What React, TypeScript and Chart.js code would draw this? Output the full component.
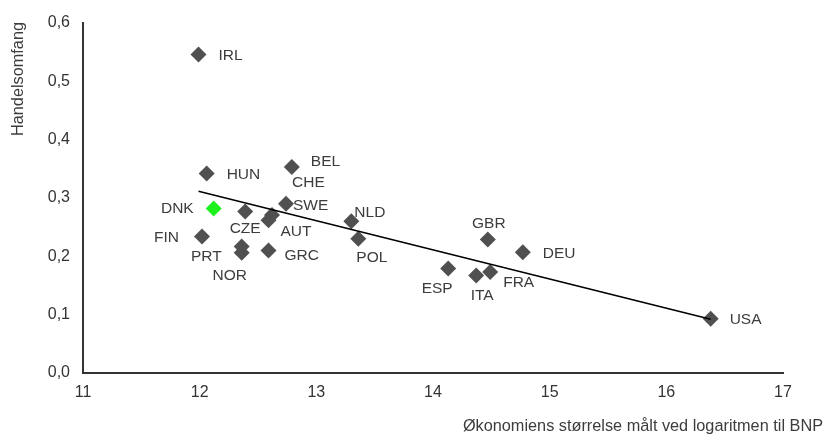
import { useEffect, useRef } from 'react';
import { Chart, registerables } from 'chart.js';

Chart.register(...registerables);

// ---- Data ----
const countries = ['IRL', 'HUN', 'BEL', 'SWE', 'DNK', 'CZE', 'CHE', 'AUT', 'FIN', 'PRT', 'NOR', 'GRC', 'NLD', 'POL', 'GBR', 'DEU', 'ESP', 'ITA', 'FRA', 'USA'];
const logGdp = [11.99, 12.06, 12.79, 12.74, 12.12, 12.39, 12.62, 12.59, 12.02, 12.36, 12.36, 12.59, 13.30, 13.36, 14.47, 14.77, 14.13, 14.37, 14.49, 16.38];
const tradeShare = [0.546, 0.342, 0.353, 0.290, 0.282, 0.277, 0.271, 0.262, 0.234, 0.217, 0.206, 0.210, 0.260, 0.230, 0.229, 0.207, 0.179, 0.167, 0.173, 0.093];
const highlighted = 'DNK';
const xTitle = 'Økonomiens størrelse målt ved logaritmen til BNP';
const yTitle = 'Handelsomfang';

// label placement relative to each point: [dx, dy, align]
const labelPlacement: [number, number, CanvasTextAlign][] = [
  [20, 1, 'left'], [20, 1, 'left'], [19, -5, 'left'], [7, 2, 'left'], [-20, 0, 'right'],
  [0, 17, 'center'], [20, -32, 'left'], [12, 12, 'left'], [-23, 1, 'right'], [-20, 10, 'right'],
  [-12, 23, 'center'], [16, 5, 'left'], [3, -9, 'left'], [-2, 19, 'left'], [1, -16, 'center'],
  [20, 1, 'left'], [-11, 20, 'center'], [6, 20, 'center'], [13, 11, 'left'], [19, 1, 'left'],
];

function trendLine() {
  const n = logGdp.length;
  const mx = logGdp.reduce((a, b) => a + b, 0) / n;
  const my = tradeShare.reduce((a, b) => a + b, 0) / n;
  let sxy = 0, sxx = 0;
  for (let i = 0; i < n; i++) {
    sxy += (logGdp[i] - mx) * (tradeShare[i] - my);
    sxx += (logGdp[i] - mx) ** 2;
  }
  const slope = sxy / sxx;
  const icpt = my - slope * mx;
  const x0 = Math.min(...logGdp);
  const x1 = Math.max(...logGdp);
  return [{ x: x0, y: icpt + slope * x0 }, { x: x1, y: icpt + slope * x1 }];
}

const FONT = '"Liberation Sans", Arial, sans-serif';

export default function App() {
  const ref = useRef<HTMLCanvasElement>(null);

  useEffect(() => {
    if (!ref.current) return;
    const labelsPlugin = {
      id: 'pointLabels',
      afterDatasetsDraw(chart: any) {
        const ctx = chart.ctx;
        const meta = chart.getDatasetMeta(1);
        ctx.save();
        ctx.font = `15.5px ${FONT}`;
        ctx.fillStyle = '#3c3c3c';
        ctx.textBaseline = 'middle';
        meta.data.forEach((pt: any, i: number) => {
          const [dx, dy, align] = labelPlacement[i];
          ctx.textAlign = align;
          ctx.fillText(countries[i], pt.x + dx, pt.y + dy);
        });
        ctx.restore();
      },
      afterDraw(chart: any) {
        const ctx = chart.ctx;
        ctx.save();
        ctx.font = `16.3px ${FONT}`;
        ctx.fillStyle = '#3c3c3c';
        ctx.textBaseline = 'middle';
        ctx.textAlign = 'right';
        ctx.fillText(xTitle, 823, 427);
        ctx.translate(19, 79);
        ctx.rotate(-Math.PI / 2);
        ctx.textAlign = 'center';
        ctx.fillText(yTitle, 0, 0);
        ctx.restore();
      },
    };

    const chart = new Chart(ref.current, {
      type: 'scatter',
      data: {
        datasets: [
          {
            type: 'line',
            data: trendLine(),
            borderColor: '#000000',
            borderWidth: 1.5,
            pointRadius: 0,
            fill: false,
            order: 0,
          } as any,
          {
            data: logGdp.map((x, i) => ({ x, y: tradeShare[i] })),
            pointStyle: 'rectRot',
            pointRadius: 8,
            pointBorderWidth: 0,
            backgroundColor: countries.map((c) => (c === highlighted ? '#1ef01e' : '#505050')),
            borderColor: countries.map((c) => (c === highlighted ? '#1ef01e' : '#505050')),
            order: 1,
          },
        ],
      },
      options: {
        responsive: false,
        animation: false,
        layout: { padding: { left: 0, top: 23, right: 45, bottom: 34 } },
        plugins: { legend: { display: false }, tooltip: { enabled: false } },
        scales: {
          x: {
            type: 'linear',
            min: 11,
            max: 17,
            grid: { display: false, drawTicks: false },
            border: { display: true, color: '#333333', width: 2 },
            ticks: {
              stepSize: 1,
              padding: 10,
              color: '#333333',
              font: { family: FONT, size: 16 },
            },
            afterFit: (s: any) => { s.height = 30; },
          },
          y: {
            type: 'linear',
            min: 0,
            max: 0.6,
            grid: { display: false, drawTicks: false },
            border: { display: true, color: '#333333', width: 2 },
            ticks: {
              stepSize: 0.1,
              padding: 13,
              color: '#333333',
              font: { family: FONT, size: 16 },
              callback: (v: any) => Number(v).toFixed(1).replace('.', ','),
            },
            afterFit: (s: any) => { s.width = 83; },
          },
        },
      },
      plugins: [labelsPlugin],
    });
    return () => chart.destroy();
  }, []);

  return (
    <div style={{ position: 'fixed', left: 0, top: 0, width: 828, height: 437, background: '#ffffff' }}>
      <canvas ref={ref} width={828} height={437} style={{ display: 'block' }} />
    </div>
  );
}
